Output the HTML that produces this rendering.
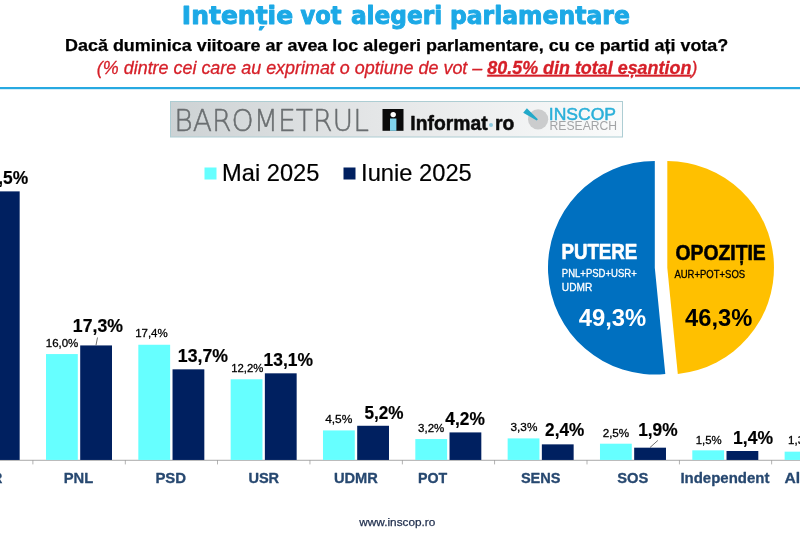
<!DOCTYPE html>
<html lang="ro">
<head>
<meta charset="utf-8">
<title>Intenție vot alegeri parlamentare</title>
<style>
html,body{margin:0;padding:0;background:#fff;}
body{width:800px;height:534px;overflow:hidden;font-family:"Liberation Sans",sans-serif;}
svg{display:block;}
</style>
</head>
<body>
<svg width="800" height="534" viewBox="0 0 800 534">
<rect x="0" y="0" width="800" height="534" fill="#FFFFFF"/>
<text y="24.1" font-family='"DejaVu Sans Condensed", "DejaVu Sans", "Liberation Sans", sans-serif' font-size="25.4" font-weight="700" fill="#1CA9E6" stroke="#1CA9E6" stroke-width="0.9" stroke-linejoin="round"><tspan x="181.86" textLength="111.23" lengthAdjust="spacingAndGlyphs">Intenție</tspan> <tspan x="300.45" textLength="41.02" lengthAdjust="spacingAndGlyphs">vot</tspan> <tspan x="350.95" textLength="91.26" lengthAdjust="spacingAndGlyphs">alegeri</tspan> <tspan x="449.92" textLength="179.94" lengthAdjust="spacingAndGlyphs">parlamentare</tspan></text>
<text x="65.00" y="50.6" font-family='"Liberation Sans", sans-serif' font-size="15.9" font-weight="700" fill="#000" textLength="663.28" lengthAdjust="spacingAndGlyphs" stroke="#000" stroke-width="0.25" stroke-linejoin="round">Dacă duminica viitoare ar avea loc alegeri parlamentare, cu ce partid ați vota?</text>
<text x="96.85" y="73.8" font-family='"Liberation Sans", sans-serif' font-size="18" font-weight="400" fill="#D62029" textLength="600.51" lengthAdjust="spacingAndGlyphs" font-style="italic" stroke="#D62029" stroke-width="0.3" stroke-linejoin="round">(% dintre cei care au exprimat o optiune de vot – <tspan font-weight="700" text-decoration="underline">80.5% din total eșantion</tspan>)</text>
<rect x="0" y="87" width="800" height="2.2" fill="#27A9E1"/>
<defs><linearGradient id="lg" x1="0" x2="1" y1="0" y2="0"><stop offset="0" stop-color="#CDD2D4"/><stop offset="0.45" stop-color="#E4E6E7"/><stop offset="1" stop-color="#FAFBFB"/></linearGradient></defs>
<rect x="170.5" y="101.5" width="452" height="35.5" fill="url(#lg)" stroke="#ADCDD3" stroke-width="1"/>
<text x="174.19" y="130.6" font-family='"DejaVu Sans Light", "DejaVu Sans", "Liberation Sans", sans-serif' font-size="29.8" font-weight="200" fill="#6A6E70" textLength="194.76" lengthAdjust="spacingAndGlyphs" stroke="#6A6E70" stroke-width="0.45" stroke-linejoin="round">BAROMETRUL</text>
<rect x="382.5" y="109" width="21" height="21.8" fill="#0B0B0B"/>
<rect x="390" y="118.5" width="6.4" height="12.3" fill="#7FD3EC"/>
<circle cx="393.2" cy="114.6" r="2.7" fill="#FFFFFF"/>
<text x="410.31" y="130" font-family='"Liberation Sans", sans-serif' font-size="20.5" font-weight="700" fill="#0B0B0B" textLength="77.28" lengthAdjust="spacingAndGlyphs" stroke="#0B0B0B" stroke-width="0.5" stroke-linejoin="round">Informat</text>
<circle cx="491" cy="125" r="2" fill="#8CC8DE"/>
<text x="494.91" y="130" font-family='"Liberation Sans", sans-serif' font-size="20.5" font-weight="700" fill="#0B0B0B" textLength="19.34" lengthAdjust="spacingAndGlyphs" stroke="#0B0B0B" stroke-width="0.5" stroke-linejoin="round">ro</text>
<circle cx="538.1" cy="119.3" r="10.1" fill="#CBCCCD"/>
<path d="M526.9 108.3 L523.2 112.7 L536.7 120.5 L537.9 119.3 Z" fill="#22A9C9"/>
<text x="548.81" y="120.2" font-family='"Liberation Sans", sans-serif' font-size="15.8" font-weight="400" fill="#2BB0D9" textLength="67.26" lengthAdjust="spacingAndGlyphs" stroke="#2BB0D9" stroke-width="0.45" stroke-linejoin="round">INSCOP</text>
<text x="549.52" y="130.3" font-family='"Liberation Sans", sans-serif' font-size="12.4" font-weight="400" fill="#A2A4A6" textLength="67.61" lengthAdjust="spacingAndGlyphs">RESEARCH</text>
<rect x="204.5" y="167.5" width="12" height="12" fill="#66FFFF"/>
<text x="222.11" y="181" font-family='"Liberation Sans", sans-serif' font-size="23.8" font-weight="400" fill="#000" textLength="97.23" lengthAdjust="spacingAndGlyphs" stroke="#000" stroke-width="0.2" stroke-linejoin="round">Mai 2025</text>
<rect x="343.5" y="167.5" width="12" height="12" fill="#002060"/>
<text x="361.11" y="181" font-family='"Liberation Sans", sans-serif' font-size="23.8" font-weight="400" fill="#000" textLength="110.62" lengthAdjust="spacingAndGlyphs" stroke="#000" stroke-width="0.2" stroke-linejoin="round">Iunie 2025</text>
<path d="M667.30 267.70 L667.30 161.00 A106.7 106.7 0 0 1 677.80 373.88 Z" fill="#FFC000"/>
<path d="M654.80 267.70 L665.31 373.98 A106.8 106.8 0 1 1 654.80 160.90 Z" fill="#0070C0"/>
<text x="561.43" y="259.1" font-family='"Liberation Sans", sans-serif' font-size="21.6" font-weight="700" fill="#fff" textLength="75.92" lengthAdjust="spacingAndGlyphs" stroke="#fff" stroke-width="0.6" stroke-linejoin="round">PUTERE</text>
<text x="561.85" y="276.7" font-family='"Liberation Sans", sans-serif' font-size="10.6" font-weight="400" fill="#fff" textLength="74.87" lengthAdjust="spacingAndGlyphs" stroke="#fff" stroke-width="0.3" stroke-linejoin="round">PNL+PSD+USR+</text>
<text x="561.85" y="290.8" font-family='"Liberation Sans", sans-serif' font-size="10.6" font-weight="400" fill="#fff" textLength="30.37" lengthAdjust="spacingAndGlyphs" stroke="#fff" stroke-width="0.3" stroke-linejoin="round">UDMR</text>
<text x="578.70" y="325.5" font-family='"Liberation Sans", sans-serif' font-size="24.3" font-weight="700" fill="#fff" textLength="67.49" lengthAdjust="spacingAndGlyphs">49,3%</text>
<text x="675.50" y="259.8" font-family='"Liberation Sans", sans-serif' font-size="21.4" font-weight="700" fill="#000" textLength="90.24" lengthAdjust="spacingAndGlyphs" stroke="#000" stroke-width="0.6" stroke-linejoin="round">OPOZIȚIE</text>
<text x="674.45" y="277.8" font-family='"Liberation Sans", sans-serif' font-size="10.6" font-weight="400" fill="#000" textLength="70.66" lengthAdjust="spacingAndGlyphs" stroke="#000" stroke-width="0.3" stroke-linejoin="round">AUR+POT+SOS</text>
<text x="685.00" y="325.5" font-family='"Liberation Sans", sans-serif' font-size="24.3" font-weight="700" fill="#000" textLength="67.29" lengthAdjust="spacingAndGlyphs">46,3%</text>
<rect x="0" y="459.80" width="800" height="0.9" fill="#9E9E9E"/>
<rect x="32.50" y="460.00" width="0.8" height="4.4" fill="#A0A0A0"/>
<rect x="124.85" y="460.00" width="0.8" height="4.4" fill="#A0A0A0"/>
<rect x="217.20" y="460.00" width="0.8" height="4.4" fill="#A0A0A0"/>
<rect x="309.55" y="460.00" width="0.8" height="4.4" fill="#A0A0A0"/>
<rect x="401.90" y="460.00" width="0.8" height="4.4" fill="#A0A0A0"/>
<rect x="494.25" y="460.00" width="0.8" height="4.4" fill="#A0A0A0"/>
<rect x="586.60" y="460.00" width="0.8" height="4.4" fill="#A0A0A0"/>
<rect x="678.95" y="460.00" width="0.8" height="4.4" fill="#A0A0A0"/>
<rect x="771.30" y="460.00" width="0.8" height="4.4" fill="#A0A0A0"/>
<rect x="863.65" y="460.00" width="0.8" height="4.4" fill="#A0A0A0"/>
<rect x="-46.33" y="207.32" width="31.8" height="252.63" fill="#66FFFF"/>
<rect x="-12.13" y="191.38" width="31.8" height="268.57" fill="#002060"/>
<rect x="46.00" y="354.06" width="31.8" height="105.89" fill="#66FFFF"/>
<rect x="80.20" y="345.43" width="31.8" height="114.52" fill="#002060"/>
<rect x="138.33" y="344.76" width="31.8" height="115.19" fill="#66FFFF"/>
<rect x="172.53" y="369.33" width="31.8" height="90.62" fill="#002060"/>
<rect x="230.66" y="379.29" width="31.8" height="80.66" fill="#66FFFF"/>
<rect x="264.86" y="373.32" width="31.8" height="86.63" fill="#002060"/>
<rect x="322.99" y="430.42" width="31.8" height="29.53" fill="#66FFFF"/>
<rect x="357.19" y="425.77" width="31.8" height="34.18" fill="#002060"/>
<rect x="415.32" y="439.05" width="31.8" height="20.90" fill="#66FFFF"/>
<rect x="449.52" y="432.41" width="31.8" height="27.54" fill="#002060"/>
<rect x="507.65" y="438.39" width="31.8" height="21.56" fill="#66FFFF"/>
<rect x="541.85" y="444.36" width="31.8" height="15.59" fill="#002060"/>
<rect x="599.98" y="443.70" width="31.8" height="16.25" fill="#66FFFF"/>
<rect x="634.18" y="447.68" width="31.8" height="12.27" fill="#002060"/>
<rect x="692.31" y="450.34" width="31.8" height="9.61" fill="#66FFFF"/>
<rect x="726.51" y="451.00" width="31.8" height="8.95" fill="#002060"/>
<rect x="784.64" y="451.67" width="31.8" height="8.28" fill="#66FFFF"/>
<rect x="818.84" y="453.66" width="31.8" height="6.29" fill="#002060"/>
<text x="63.69" y="482.5" font-family='"Liberation Sans", sans-serif' font-size="15.3" font-weight="700" fill="#274870" textLength="29.50" lengthAdjust="spacingAndGlyphs" stroke="#274870" stroke-width="0.3" stroke-linejoin="round">PNL</text>
<text x="155.42" y="482.5" font-family='"Liberation Sans", sans-serif' font-size="15.3" font-weight="700" fill="#274870" textLength="30.72" lengthAdjust="spacingAndGlyphs" stroke="#274870" stroke-width="0.3" stroke-linejoin="round">PSD</text>
<text x="248.40" y="482.5" font-family='"Liberation Sans", sans-serif' font-size="15.3" font-weight="700" fill="#274870" textLength="30.74" lengthAdjust="spacingAndGlyphs" stroke="#274870" stroke-width="0.3" stroke-linejoin="round">USR</text>
<text x="333.90" y="482.5" font-family='"Liberation Sans", sans-serif' font-size="15.3" font-weight="700" fill="#274870" textLength="43.99" lengthAdjust="spacingAndGlyphs" stroke="#274870" stroke-width="0.3" stroke-linejoin="round">UDMR</text>
<text x="417.97" y="482.5" font-family='"Liberation Sans", sans-serif' font-size="15.3" font-weight="700" fill="#274870" textLength="29.27" lengthAdjust="spacingAndGlyphs" stroke="#274870" stroke-width="0.3" stroke-linejoin="round">POT</text>
<text x="520.90" y="482.5" font-family='"Liberation Sans", sans-serif' font-size="15.3" font-weight="700" fill="#274870" textLength="39.64" lengthAdjust="spacingAndGlyphs" stroke="#274870" stroke-width="0.3" stroke-linejoin="round">SENS</text>
<text x="617.15" y="482.5" font-family='"Liberation Sans", sans-serif' font-size="15.3" font-weight="700" fill="#274870" textLength="31.15" lengthAdjust="spacingAndGlyphs" stroke="#274870" stroke-width="0.3" stroke-linejoin="round">SOS</text>
<text x="680.42" y="482.5" font-family='"Liberation Sans", sans-serif' font-size="15.3" font-weight="700" fill="#274870" textLength="89.02" lengthAdjust="spacingAndGlyphs" stroke="#274870" stroke-width="0.3" stroke-linejoin="round">Independent</text>
<text x="-29.45" y="482.5" font-family='"Liberation Sans", sans-serif' font-size="15.3" font-weight="700" fill="#274870" textLength="31.85" lengthAdjust="spacingAndGlyphs" stroke="#274870" stroke-width="0.3" stroke-linejoin="round">AUR</text>
<text x="784.55" y="482.5" font-family='"Liberation Sans", sans-serif' font-size="15.3" font-weight="700" fill="#274870" textLength="29.56" lengthAdjust="spacingAndGlyphs" stroke="#274870" stroke-width="0.3" stroke-linejoin="round">Alții</text>
<text x="45.75" y="346.6" font-family='"Liberation Sans", sans-serif' font-size="11.7" font-weight="400" fill="#000" textLength="32.59" lengthAdjust="spacingAndGlyphs" stroke="#000" stroke-width="0.3" stroke-linejoin="round">16,0%</text>
<text x="135.15" y="337.0" font-family='"Liberation Sans", sans-serif' font-size="11.7" font-weight="400" fill="#000" textLength="32.59" lengthAdjust="spacingAndGlyphs" stroke="#000" stroke-width="0.3" stroke-linejoin="round">17,4%</text>
<text x="231.15" y="372.0" font-family='"Liberation Sans", sans-serif' font-size="11.7" font-weight="400" fill="#000" textLength="32.18" lengthAdjust="spacingAndGlyphs" stroke="#000" stroke-width="0.3" stroke-linejoin="round">12,2%</text>
<text x="325.15" y="423.25" font-family='"Liberation Sans", sans-serif' font-size="11.7" font-weight="400" fill="#000" textLength="27.20" lengthAdjust="spacingAndGlyphs" stroke="#000" stroke-width="0.3" stroke-linejoin="round">4,5%</text>
<text x="418.05" y="432.25" font-family='"Liberation Sans", sans-serif' font-size="11.7" font-weight="400" fill="#000" textLength="26.19" lengthAdjust="spacingAndGlyphs" stroke="#000" stroke-width="0.3" stroke-linejoin="round">3,2%</text>
<text x="510.55" y="431.4" font-family='"Liberation Sans", sans-serif' font-size="11.7" font-weight="400" fill="#000" textLength="26.79" lengthAdjust="spacingAndGlyphs" stroke="#000" stroke-width="0.3" stroke-linejoin="round">3,3%</text>
<text x="602.65" y="436.75" font-family='"Liberation Sans", sans-serif' font-size="11.7" font-weight="400" fill="#000" textLength="26.59" lengthAdjust="spacingAndGlyphs" stroke="#000" stroke-width="0.3" stroke-linejoin="round">2,5%</text>
<text x="695.65" y="443.65" font-family='"Liberation Sans", sans-serif' font-size="11.7" font-weight="400" fill="#000" textLength="25.93" lengthAdjust="spacingAndGlyphs" stroke="#000" stroke-width="0.3" stroke-linejoin="round">1,5%</text>
<text x="788.05" y="444.1" font-family='"Liberation Sans", sans-serif' font-size="11.7" font-weight="400" fill="#000" textLength="26.19" lengthAdjust="spacingAndGlyphs" stroke="#000" stroke-width="0.3" stroke-linejoin="round">1,3%</text>
<text x="-21.10" y="183.7" font-family='"Liberation Sans", sans-serif' font-size="17.9" font-weight="700" fill="#000" textLength="49.26" lengthAdjust="spacingAndGlyphs" stroke="#000" stroke-width="0.2" stroke-linejoin="round">40,5%</text>
<text x="72.86" y="332.35" font-family='"Liberation Sans", sans-serif' font-size="17.9" font-weight="700" fill="#000" textLength="50.05" lengthAdjust="spacingAndGlyphs" stroke="#000" stroke-width="0.2" stroke-linejoin="round">17,3%</text>
<text x="177.86" y="361.6" font-family='"Liberation Sans", sans-serif' font-size="17.9" font-weight="700" fill="#000" textLength="50.05" lengthAdjust="spacingAndGlyphs" stroke="#000" stroke-width="0.2" stroke-linejoin="round">13,7%</text>
<text x="263.53" y="366.1" font-family='"Liberation Sans", sans-serif' font-size="17.9" font-weight="700" fill="#000" textLength="49.38" lengthAdjust="spacingAndGlyphs" stroke="#000" stroke-width="0.2" stroke-linejoin="round">13,1%</text>
<text x="364.50" y="419.1" font-family='"Liberation Sans", sans-serif' font-size="17.9" font-weight="700" fill="#000" textLength="39.06" lengthAdjust="spacingAndGlyphs" stroke="#000" stroke-width="0.2" stroke-linejoin="round">5,2%</text>
<text x="445.35" y="424.5" font-family='"Liberation Sans", sans-serif' font-size="17.9" font-weight="700" fill="#000" textLength="39.46" lengthAdjust="spacingAndGlyphs" stroke="#000" stroke-width="0.2" stroke-linejoin="round">4,2%</text>
<text x="545.10" y="436.1" font-family='"Liberation Sans", sans-serif' font-size="17.9" font-weight="700" fill="#000" textLength="39.11" lengthAdjust="spacingAndGlyphs" stroke="#000" stroke-width="0.2" stroke-linejoin="round">2,4%</text>
<text x="638.13" y="435.70000000000005" font-family='"Liberation Sans", sans-serif' font-size="17.9" font-weight="700" fill="#000" textLength="39.43" lengthAdjust="spacingAndGlyphs" stroke="#000" stroke-width="0.2" stroke-linejoin="round">1,9%</text>
<text x="733.12" y="444.0" font-family='"Liberation Sans", sans-serif' font-size="17.9" font-weight="700" fill="#000" textLength="39.89" lengthAdjust="spacingAndGlyphs" stroke="#000" stroke-width="0.2" stroke-linejoin="round">1,4%</text>
<path d="M97.5 337.5 L96 345.2" stroke="#333" stroke-width="0.7" fill="none"/>
<path d="M657.9 440.4 L650 447.5" stroke="#333" stroke-width="0.7" fill="none"/>
<text x="359.27" y="525.6" font-family='"Liberation Sans", sans-serif' font-size="11.3" font-weight="400" fill="#1F2E4D" textLength="76.10" lengthAdjust="spacingAndGlyphs" stroke="#1F2E4D" stroke-width="0.25" stroke-linejoin="round">www.inscop.ro</text>
</svg>
</body>
</html>
